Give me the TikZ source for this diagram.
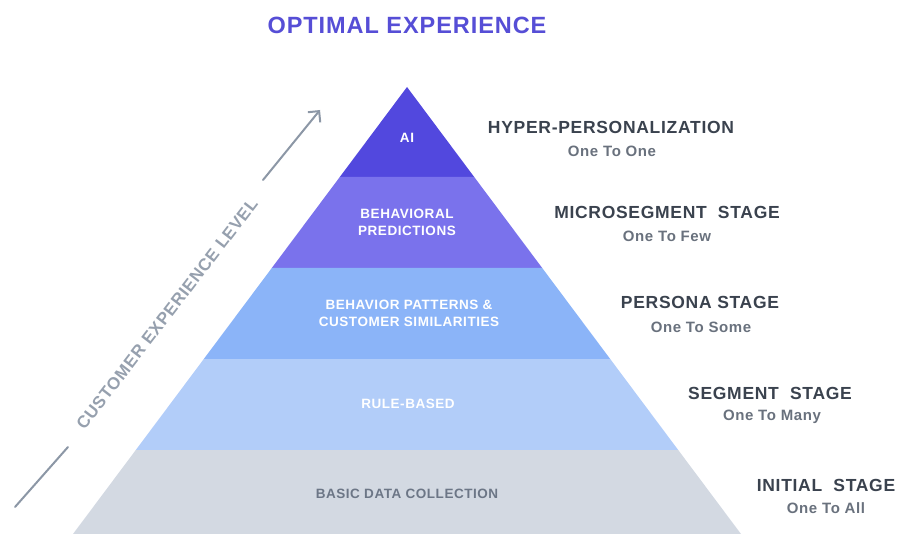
\documentclass[tikz,border=0pt]{standalone}
\usepackage{fontspec}
\setmainfont{Liberation Sans}
\newfontfamily\spacedfont[LetterSpace=4]{Liberation Sans}
\usetikzlibrary{arrows.meta}

\definecolor{titleblue}{RGB}{86,78,214}
\definecolor{bandA}{RGB}{82,72,222}
\definecolor{bandB}{RGB}{122,114,236}
\definecolor{bandC}{RGB}{139,180,248}
\definecolor{bandD}{RGB}{178,205,249}
\definecolor{bandE}{RGB}{211,217,226}
\definecolor{headgray}{RGB}{58,66,78}
\definecolor{subgray}{RGB}{105,113,125}
\definecolor{basegray}{RGB}{108,118,134}
\definecolor{axisgray}{RGB}{140,151,166}
\definecolor{axistext}{RGB}{150,160,174}

\tikzset{
  band/.style={draw=none},
  inlabel/.style={text=white, font=\spacedfont\bfseries\fontsize{13.5}{17}\selectfont, align=center, inner sep=0pt},
  baselabel/.style={text=basegray, font=\spacedfont\bfseries\fontsize{13.5}{17}\selectfont, inner sep=0pt},
  stagehead/.style={text=headgray, font=\spacedfont\bfseries\fontsize{17.5}{20}\selectfont, inner sep=0pt},
  stagesub/.style={text=subgray, font=\spacedfont\bfseries\fontsize{15}{18}\selectfont, inner sep=0pt},
  axisline/.style={draw=axisgray, line width=2pt, line cap=round},
}

\begin{document}
\begin{tikzpicture}[x=1pt, y=-1pt]
  \useasboundingbox (0,0) rectangle (909,534);

  % pyramid outline points
  \coordinate (apex) at (407,87);
  \coordinate (L1) at (339.8,177); \coordinate (R1) at (474.2,177);
  \coordinate (L2) at (271.8,268); \coordinate (R2) at (542.2,268);
  \coordinate (L3) at (203.8,359); \coordinate (R3) at (610.2,359);
  \coordinate (L4) at (135.8,450); \coordinate (R4) at (678.2,450);
  \coordinate (L5) at (73,534);    \coordinate (R5) at (741,534);

  % bands, top to bottom
  \fill[bandA] (apex) -- (R1) -- (L1) -- cycle;
  \fill[bandB] (L1) -- (R1) -- (R2) -- (L2) -- cycle;
  \fill[bandC] (L2) -- (R2) -- (R3) -- (L3) -- cycle;
  \fill[bandD] (L3) -- (R3) -- (R4) -- (L4) -- cycle;
  \fill[bandE] (L4) -- (R4) -- (R5) -- (L5) -- cycle;

  % band labels
  \node[inlabel] (ai) at (407,138) {AI};
  \node[inlabel] (pred) at (407,222) {BEHAVIORAL\\PREDICTIONS};
  \node[inlabel] (patt) at (409,313) {BEHAVIOR PATTERNS \&\\CUSTOMER SIMILARITIES};
  \node[inlabel] (rule) at (408,404) {RULE-BASED};
  \node[baselabel] (basic) at (407,494) {BASIC DATA COLLECTION};

  % title
  \node[text=titleblue, inner sep=0pt,
        font=\spacedfont\bfseries\fontsize{23.5}{26}\selectfont] (title) at (407,25) {OPTIMAL EXPERIENCE};

  % stage labels
  \node[stagehead] (h1) at (611,127) {HYPER-PERSONALIZATION};
  \node[stagesub]  (s1) at (612,151) {One To One};
  \node[stagehead] (h2) at (667,212) {MICROSEGMENT~~STAGE};
  \node[stagesub]  (s2) at (667,236) {One To Few};
  \node[stagehead] (h3) at (700,302) {PERSONA STAGE};
  \node[stagesub]  (s3) at (701,327) {One To Some};
  \node[stagehead] (h4) at (770,393) {SEGMENT~~STAGE};
  \node[stagesub]  (s4) at (772,417) {One To Many};
  \node[stagehead] (h5) at (826,485) {INITIAL~~STAGE};
  \node[stagesub]  (s5) at (826,508) {One To All};

  % experience axis
  \coordinate (axstart) at (15,507);
  \coordinate (axlow) at (68,447);
  \coordinate (axhigh) at (263,180);
  \coordinate (axend) at (320,110);
  \node[text=axistext, rotate=52.5, inner sep=0pt,
        font=\spacedfont\bfseries\fontsize{17}{20}\selectfont] (axlabel) at (167,314) {CUSTOMER EXPERIENCE LEVEL};
  \draw[axisline] (axstart) -- (axlow);
  \draw[axisline, -{Straight Barb[length=8pt, width=16pt, line width=2pt]}] (axhigh) -- (axend);
\end{tikzpicture}
\end{document}
